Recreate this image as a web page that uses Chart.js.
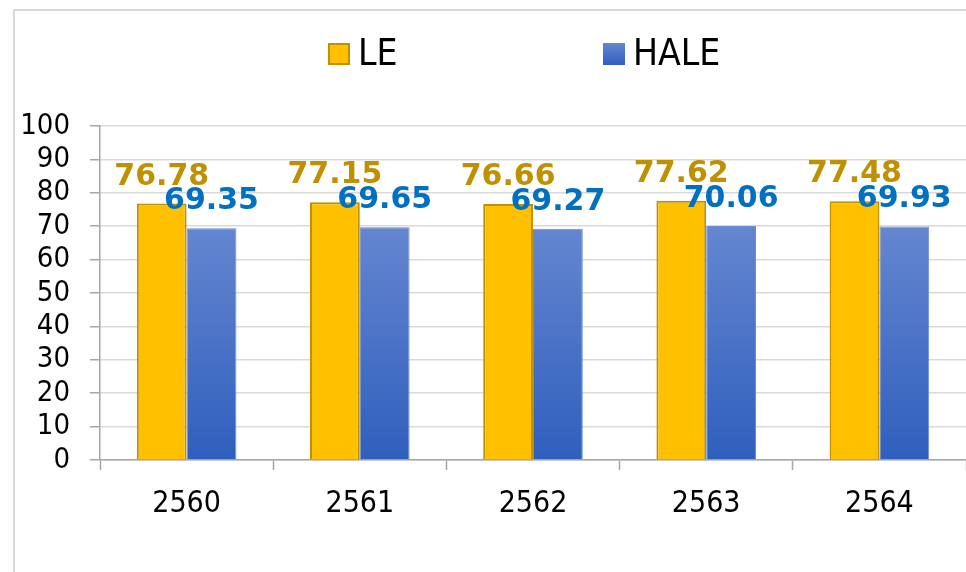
<!DOCTYPE html>
<html>
<head>
<meta charset="utf-8">
<script src="https://cdn.jsdelivr.net/npm/chart.js@4"></script>
<style>
  html, body { margin: 0; padding: 0; background: #fff; overflow: hidden; }
  #wrap { position: relative; width: 966px; height: 572px; }
</style>
</head>
<body>
<div id="wrap"><canvas id="myBarChart"></canvas></div>
<script>
// Chart data
const years = ["2560", "2561", "2562", "2563", "2564"];
const leValues = [76.78, 77.15, 76.66, 77.62, 77.48];
const haleValues = [69.35, 69.65, 69.27, 70.06, 69.93];
const yTicks = [0, 10, 20, 30, 40, 50, 60, 70, 80, 90, 100];

const tickFont = "'DejaVu Sans Condensed', 'DejaVu Sans', sans-serif";
const labelColors = ["#BF9000", "#0070C0"];

const ctx = document.getElementById("myBarChart").getContext('2d');

// blue gradient for HALE bars
function haleFill(context) {
  const chart = context.chart;
  const area = chart.chartArea;
  if (!area) return "#4472C4";
  const y = chart.scales.y;
  const g = chart.ctx.createLinearGradient(0, y.getPixelForValue(70), 0, y.getPixelForValue(0));
  g.addColorStop(0, "#6586D0");
  g.addColorStop(1, "#2F5FBD");
  return g;
}

// frame, legend and value labels
const decor = {
  id: 'decor',
  beforeDraw(chart) {
    const c = chart.ctx;
    c.save();
    c.strokeStyle = "#D9D9D9";
    c.lineWidth = 2;
    c.beginPath();
    c.moveTo(14, chart.height + 5);
    c.lineTo(14, 10);
    c.lineTo(chart.width + 5, 10);
    c.stroke();
    c.restore();
  },
  afterDatasetsDraw(chart) {
    const c = chart.ctx;
    c.save();
    // value labels
    c.font = "bold 30px 'DejaVu Sans', sans-serif";
    c.textAlign = "center";
    c.textBaseline = "alphabetic";
    chart.data.datasets.forEach((ds, i) => {
      chart.getDatasetMeta(i).data.forEach((bar, j) => {
        c.fillStyle = labelColors[i];
        c.fillText(ds.data[j].toFixed(2), bar.x, bar.y - 19);
      });
    });
    // legend
    c.font = "37px " + tickFont;
    c.textAlign = "left";
    c.textBaseline = "middle";
    const starts = [329, 604];
    chart.data.datasets.forEach((ds, i) => {
      const x = starts[i];
      if (i === 0) {
        c.fillStyle = "#FFC000";
        c.fillRect(x, 44, 20, 20);
        c.strokeStyle = "#BF9000";
        c.lineWidth = 2;
        c.strokeRect(x, 44, 20, 20);
      } else {
        const g = c.createLinearGradient(0, 43, 0, 65);
        g.addColorStop(0, "#6586D0");
        g.addColorStop(1, "#2F5FBD");
        c.fillStyle = g;
        c.fillRect(x - 1, 43, 22, 22);
      }
      c.fillStyle = "#000";
      c.fillText(ds.label, x + 29, 55);
    });
    c.restore();
  }
};

new Chart(ctx, {
  type: 'bar',
  data: {
    labels: years,
    datasets: [{
      label: "LE",
      data: leValues,
      backgroundColor: "#FFC000",
      borderColor: "#BF9000",
      borderWidth: 2,
      categoryPercentage: 0.575,
      barPercentage: 1
    }, {
      label: "HALE",
      data: haleValues,
      backgroundColor: haleFill,
      borderColor: "#6A8CD4",
      borderWidth: 1,
      categoryPercentage: 0.575,
      barPercentage: 1
    }]
  },
  options: {
    responsive: true,
    maintainAspectRatio: false,
    animation: false,
    layout: {
      padding: { left: 0, right: 0, top: 126, bottom: 0 }
    },
    scales: {
      x: {
        offset: true,
        grid: {
          offset: true,
          drawOnChartArea: false,
          tickLength: 10,
          tickColor: "#A6A6A6",
          tickWidth: 1.5
        },
        border: { color: "#A6A6A6", width: 1.5 },
        ticks: {
          color: "#000",
          padding: 16,
          font: { family: tickFont, size: 30 }
        },
        afterFit(scale) { scale.height = 112; }
      },
      y: {
        min: 0,
        max: 100,
        afterBuildTicks(scale) {
          scale.ticks = yTicks.map(v => ({ value: v }));
        },
        grid: {
          color: "#D9D9D9",
          lineWidth: 1.5,
          tickLength: 10,
          tickColor: "#A6A6A6",
          tickWidth: 1.5
        },
        border: { color: "#A6A6A6", width: 1.5 },
        ticks: {
          color: "#000",
          padding: 20,
          autoSkip: false,
          font: { family: tickFont, size: 29 }
        },
        afterFit(scale) { scale.width = 100; }
      }
    },
    plugins: {
      legend: { display: false },
      tooltip: { enabled: false }
    }
  },
  plugins: [decor]
});
</script>
</body>
</html>
